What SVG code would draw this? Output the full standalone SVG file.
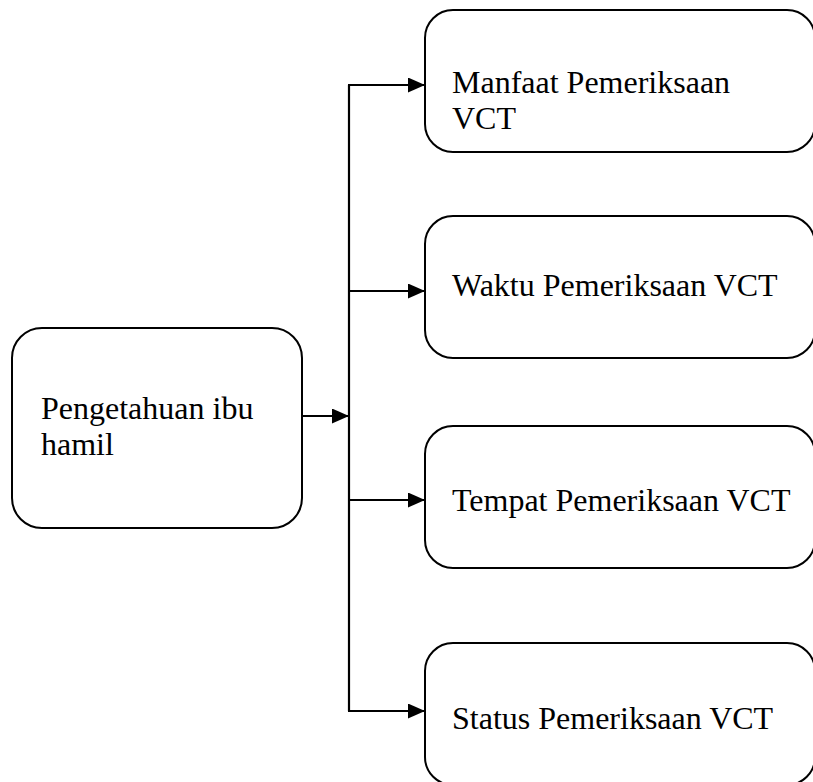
<svg xmlns="http://www.w3.org/2000/svg" width="813" height="782" viewBox="0 0 813 782">
<style>
.box{fill:#fff;stroke:#000;stroke-width:2}
.lbl{font-family:"Liberation Serif","Times New Roman",serif;font-size:32px;fill:#000}
.ln{fill:none;stroke:#000;stroke-width:2.2}
</style>
<defs>
<marker id="ah" markerUnits="userSpaceOnUse" markerWidth="18" markerHeight="16" refX="17" refY="7.5" orient="auto">
<path d="M0,0 L17,7.5 L0,15 Z" fill="#000"/>
</marker>
</defs>
<g id="n0">
<rect class="box" x="12" y="328" width="290" height="200" rx="30" ry="30"/>
<text class="lbl" x="41" y="419">Pengetahuan ibu</text>
<text class="lbl" x="41" y="455">hamil</text>
</g>
<g id="n1">
<rect class="box" x="425" y="10" width="390" height="142" rx="28" ry="28"/>
<text class="lbl" x="452" y="93">Manfaat Pemeriksaan</text>
<text class="lbl" x="452" y="129">VCT</text>
</g>
<g id="n2">
<rect class="box" x="425" y="216" width="390" height="142" rx="28" ry="28"/>
<text class="lbl" x="452" y="296">Waktu Pemeriksaan VCT</text>
</g>
<g id="n3">
<rect class="box" x="425" y="426" width="390" height="142" rx="28" ry="28"/>
<text class="lbl" x="452" y="511">Tempat Pemeriksaan VCT</text>
</g>
<g id="n4">
<rect class="box" x="425" y="643" width="390" height="142" rx="28" ry="28"/>
<text class="lbl" x="452" y="729">Status Pemeriksaan VCT</text>
</g>
<g id="connectors">
<path class="ln" d="M302,416 L349,416" marker-end="url(#ah)"/>
<path class="ln" d="M349,85 L349,711"/>
<path class="ln" d="M348,85 L425,85" marker-end="url(#ah)"/>
<path class="ln" d="M348,291 L425,291" marker-end="url(#ah)"/>
<path class="ln" d="M348,500 L425,500" marker-end="url(#ah)"/>
<path class="ln" d="M348,711 L425,711" marker-end="url(#ah)"/>
</g>
</svg>
